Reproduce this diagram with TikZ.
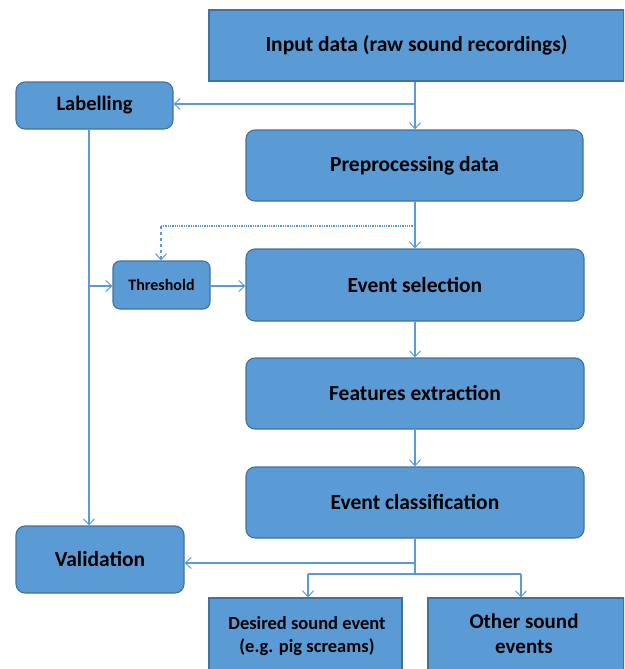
\documentclass[tikz,border=0pt]{standalone}
\usepackage{fontspec}
\setmainfont{Carlito}
\usetikzlibrary{arrows.meta}
\definecolor{boxfill}{HTML}{5B9BD5}
\definecolor{boxline}{HTML}{41719C}
\definecolor{conn}{HTML}{5B9BD5}
\begin{document}
\begin{tikzpicture}[x=1pt,y=-1pt,
  box/.style={draw=boxline,fill=boxfill,line width=1.1pt,font=\bfseries,align=center,inner sep=0pt},
  rbox/.style={box,rounded corners=9pt},
  big/.style={font=\bfseries\fontsize{21.5}{25}\selectfont},
  conn/.style={draw=conn,line width=1.3pt},
  arr/.style={conn,-{Straight Barb[length=6pt,width=11pt,line width=1pt]}},
  darr/.style={arr,densely dotted}]
\useasboundingbox (0,0) rectangle (624,669);
\clip (0,0) rectangle (624,669);
% boxes
\node[box,big,minimum width=415pt,minimum height=71pt] (input) at (416.5,45.5) {Input data (raw sound recordings)};
\node[rbox,minimum width=157pt,minimum height=47pt,font=\bfseries\fontsize{20.5}{24}\selectfont] (lab) at (94.5,105.5) {Labelling};
\node[rbox,big,minimum width=337pt,minimum height=71pt] (pre) at (414.5,165.5) {Preprocessing data};
\node[rbox,rounded corners=7pt,minimum width=97pt,minimum height=48pt,font=\bfseries\fontsize{16}{19}\selectfont] (thr) at (161.5,285) {Threshold};
\node[rbox,big,minimum width=338pt,minimum height=72pt] (sel) at (415,285) {Event selection};
\node[rbox,big,minimum width=338pt,minimum height=71pt] (feat) at (415,393.5) {Features extraction};
\node[rbox,big,minimum width=338pt,minimum height=71pt] (cls) at (415,502.5) {Event classification};
\node[rbox,big,minimum width=168pt,minimum height=67pt] (val) at (100,559.5) {Validation};
\node[box,minimum width=193pt,minimum height=80pt] (des) at (305.5,638) {};
\node[font=\bfseries\fontsize{18.5}{23}\selectfont,align=center] (destxt) at (307,636) {Desired sound event\\(e.g. pig screams)};
\node[box,minimum width=196pt,minimum height=80pt] (oth) at (526,638) {};
\node[font=\bfseries\fontsize{21}{25}\selectfont,align=center] (othtxt) at (524,634) {Other sound\\events};
% coordinates
\coordinate (j1) at (415,104);
\coordinate (j2) at (89,286);
\coordinate (j3) at (415,226);
\coordinate (j3b) at (161,226);
\coordinate (j4) at (415,563);
\coordinate (j5) at (415,574);
\coordinate (j5l) at (308,574);
\coordinate (j5r) at (521,574);
% connectors
\draw[arr] (input.south -| j1) -- (pre.north -| j1);
\draw[arr] (j1) -- (lab.east |- j1);
\draw[arr] (lab.south -| j2) -- (val.north -| j2);
\draw[arr] (j2) -- (thr.west |- j2);
\draw[arr] (pre.south -| j3) -- (sel.north -| j3);
\draw[conn,densely dotted] (j3) -- (j3b);
\draw[darr,dashed] (j3b) -- (thr.north -| j3b);
\draw[arr] (thr.east |- j2) -- (sel.west |- j2);
\draw[arr] (sel.south) -- (feat.north);
\draw[arr] (feat.south) -- (cls.north);
\draw[conn] (cls.south) -- (j5);
\draw[arr] (j4) -- (val.east |- j4);
\draw[conn] (j5l) -- (j5r);
\draw[arr] (j5l) -- (des.north -| j5l);
\draw[arr] (j5r) -- (oth.north -| j5r);
\end{tikzpicture}
\end{document}
